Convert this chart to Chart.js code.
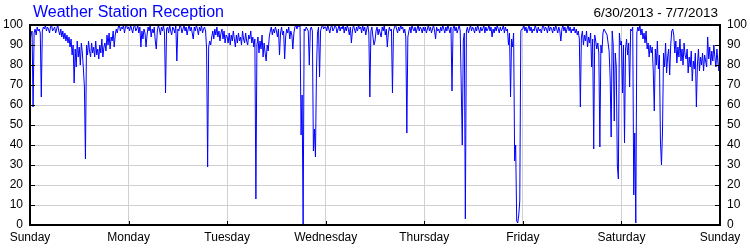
<!DOCTYPE html>
<html>
<head>
<meta charset="utf-8">
<script src="https://cdn.jsdelivr.net/npm/chart.js@4.4.0/dist/chart.umd.min.js"></script>
<style>
html, body { margin: 0; padding: 0; background: #fff; }
#wrap { width: 750px; height: 250px; }
</style>
</head>
<body>
<div id="wrap"><canvas id="myChart" width="750" height="250"></canvas></div>
<script>
const titleText = 'Weather Station Reception';
const rangeText = '6/30/2013 - 7/7/2013';
const dayNames = ['Sunday', 'Monday', 'Tuesday', 'Wednesday', 'Thursday', 'Friday', 'Saturday', 'Sunday'];
const stepHours = 0.25;

// reception % every 15 minutes, one array per day
const sunday = [92, 95, 97, 59, 96, 98, 95, 99, 97, 98, 96, 64, 97, 99, 98, 100,
    97, 99, 98, 96, 99, 100, 97, 98, 99, 96, 98, 100, 97, 95, 98, 94,
    97, 93, 96, 92, 95, 91, 94, 89, 93, 85, 90, 71, 88, 79, 92, 84,
    89, 80, 91, 86, 78, 69, 33, 90, 85, 92, 87, 84, 91, 86, 89, 84,
    92, 85, 88, 83, 90, 86, 93, 84, 89, 91, 87, 95, 90, 96, 88, 94,
    92, 97, 89, 95, 98, 96, 99, 100, 97, 99, 98, 100, 96, 99, 100, 98];
const monday = [99, 97, 100, 98, 96, 99, 100, 97, 98, 100, 96, 99, 89, 97, 93, 98,
    96, 89, 95, 99, 97, 100, 94, 98, 96, 99, 92, 88, 97, 100, 98, 95,
    99, 97, 100, 96, 66, 98, 99, 96, 100, 97, 95, 99, 98, 96, 100, 82,
    98, 97, 100, 99, 96, 98, 100, 97, 99, 95, 98, 100, 97, 99, 96, 93,
    99, 97, 100, 98, 95, 99, 97, 100, 96, 98, 99, 97, 88, 29, 89, 92,
    90, 94, 97, 93, 98, 95, 99, 94, 97, 92, 96, 98, 93, 97, 91, 95];
const tuesday = [94, 91, 96, 90, 95, 92, 97, 93, 89, 95, 91, 96, 92, 94, 90, 97,
    93, 91, 96, 92, 90, 95, 93, 97, 91, 94, 89, 93, 13, 90, 94, 86,
    92, 88, 95, 84, 91, 86, 82, 90, 87, 94, 97, 99, 95, 98, 96, 99,
    97, 94, 98, 85, 96, 99, 95, 97, 83, 94, 98, 96, 99, 93, 97, 95,
    88, 96, 99, 100, 98, 100, 99, 100, 45, 65, 0, 98, 97, 99, 98, 97,
    80, 98, 99, 97, 37, 48, 34, 77, 96, 99, 74, 97, 99, 100, 98, 99];
const wednesday = [99, 97, 100, 98, 96, 99, 100, 97, 98, 100, 99, 96, 98, 100, 97, 99,
    98, 100, 96, 99, 97, 100, 98, 95, 99, 91, 97, 100, 98, 96, 99, 97,
    100, 98, 99, 96, 100, 97, 99, 95, 98, 100, 96, 64, 97, 99, 94, 90,
    92, 97, 99, 95, 98, 96, 94, 99, 97, 100, 95, 98, 89, 96, 99, 97,
    98, 66, 97, 99, 100, 98, 96, 99, 97, 100, 98, 99, 96, 98, 94, 46,
    94, 97, 99, 96, 100, 98, 97, 99, 96, 98, 100, 97, 99, 98, 96, 99];
const thursday = [97, 99, 96, 98, 100, 97, 99, 96, 98, 100, 97, 93, 99, 97, 98, 96,
    99, 97, 100, 98, 96, 99, 97, 100, 98, 96, 99, 67, 98, 100, 97, 99,
    96, 98, 100, 97, 69, 40, 92, 96, 3, 97, 99, 96, 98, 100, 97, 99,
    98, 96, 99, 97, 100, 98, 96, 99, 97, 98, 100, 96, 99, 97, 98, 100,
    97, 99, 94, 98, 96, 99, 97, 100, 98, 96, 99, 97, 98, 100, 96, 99,
    97, 98, 90, 96, 64, 93, 89, 96, 32, 40, 2, 1, 5, 12, 97, 98];
const friday = [98, 100, 97, 99, 96, 98, 100, 97, 99, 96, 98, 97, 100, 98, 96, 99,
    97, 98, 96, 99, 100, 97, 99, 98, 96, 100, 97, 99, 98, 96, 99, 97,
    100, 98, 96, 99, 97, 92, 98, 100, 97, 99, 96, 98, 100, 97, 99, 96,
    98, 97, 99, 96, 98, 95, 97, 93, 59, 94, 97, 90, 95, 92, 97, 89,
    94, 91, 96, 79, 93, 38, 95, 92, 88, 91, 86, 39, 90, 86, 96, 98,
    97, 96, 95, 91, 87, 74, 44, 97, 90, 52, 86, 79, 30, 23, 96, 90];
const saturday = [92, 66, 90, 41, 88, 93, 85, 91, 69, 98, 97, 99, 15, 46, 1, 96,
    99, 97, 100, 95, 98, 93, 96, 91, 97, 88, 91, 84, 90, 86, 89, 77,
    57, 88, 80, 92, 78, 85, 42, 30, 47, 86, 79, 91, 76, 84, 88, 75,
    90, 97, 98, 95, 86, 92, 81, 89, 84, 93, 82, 88, 80, 91, 85, 83,
    88, 76, 84, 79, 87, 72, 82, 78, 86, 59, 80, 88, 77, 84, 80, 86,
    77, 85, 82, 79, 94, 83, 89, 80, 87, 82, 90, 84, 79, 88, 81, 77,
    97];

const reception = [...sunday, ...monday, ...tuesday, ...wednesday, ...thursday, ...friday, ...saturday];
const points = reception.map((v, i) => ({ x: i * stepHours, y: v }));

const fontName = '"Liberation Sans", Arial, sans-serif';

const frame = {
    id: 'frame',
    afterDraw(chart) {
        const ctx = chart.ctx;
        const a = chart.chartArea;
        const ys = chart.scales.y;
        const xs = chart.scales.x;
        ctx.save();
        ctx.strokeStyle = '#000';
        ctx.lineWidth = 1;
        ctx.beginPath();
        ys.ticks.forEach(t => {
            const py = Math.round(ys.getPixelForValue(t.value)) + 0.5;
            ctx.moveTo(a.left, py); ctx.lineTo(a.left + 5, py);
            ctx.moveTo(a.right - 5, py); ctx.lineTo(a.right, py);
        });
        xs.ticks.forEach(t => {
            const px = Math.round(xs.getPixelForValue(t.value)) + 0.5;
            ctx.moveTo(px, a.bottom); ctx.lineTo(px, a.bottom - 4);
        });
        ctx.stroke();
        ctx.lineWidth = 2;
        ctx.strokeRect(a.left, a.top, a.right - a.left, a.bottom - a.top);

        ctx.textBaseline = 'alphabetic';
        ctx.font = '16px ' + fontName;
        ctx.fillStyle = '#0000ff';
        ctx.textAlign = 'left';
        ctx.fillText(titleText, 33, 17);
        ctx.font = '13.5px ' + fontName;
        ctx.fillStyle = '#000';
        ctx.textAlign = 'right';
        ctx.fillText(rangeText, 718, 17);
        ctx.restore();
    }
};

const gridColor = '#d0d0d0';

const myChart = new Chart(document.getElementById('myChart'), {
    type: 'line',
    data: {
        datasets: [
            {
                label: 'Reception',
                data: points,
                borderColor: '#0000ff',
                borderWidth: 1,
                pointRadius: 0,
                tension: 0,
            },
        ],
    },
    options: {
        responsive: false,
        animation: false,
        devicePixelRatio: 1,
        layout: { padding: { top: 25 } },
        plugins: {
            legend: { display: false },
            tooltip: { enabled: false },
        },
        scales: {
            x: {
                type: 'linear',
                min: 0,
                max: 168,
                afterFit: (s) => { s.height = 25; },
                ticks: {
                    stepSize: 24,
                    autoSkip: false,
                    maxRotation: 0,
                    padding: 5,
                    color: '#000',
                    font: { family: fontName, size: 12 },
                    callback: (v) => dayNames[Math.round(v / 24)],
                },
                grid: { color: gridColor, drawTicks: false },
                border: { display: false },
            },
            y: {
                position: 'left',
                min: 0,
                max: 100,
                afterFit: (s) => { s.width = 30; },
                ticks: {
                    stepSize: 10,
                    padding: 7,
                    color: '#000',
                    font: { family: fontName, size: 12 },
                },
                grid: { color: gridColor, drawTicks: false },
                border: { display: false },
            },
            y2: {
                position: 'right',
                min: 0,
                max: 100,
                afterFit: (s) => { s.width = 30; },
                ticks: {
                    stepSize: 10,
                    padding: 7,
                    color: '#000',
                    font: { family: fontName, size: 12 },
                },
                grid: { display: false, drawTicks: false },
                border: { display: false },
            },
        },
    },
    plugins: [frame],
});
</script>
</body>
</html>
